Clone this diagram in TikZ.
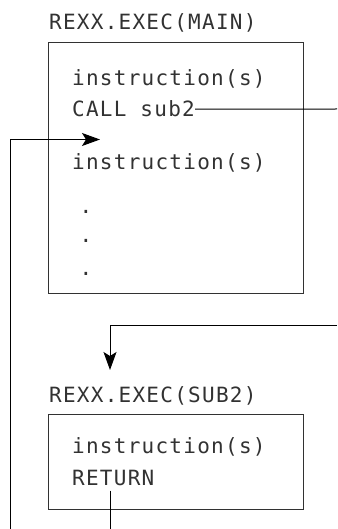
\documentclass[tikz,border=0pt]{standalone}
\usepackage{fontspec}
\usepackage{tikz}
\usetikzlibrary{arrows.meta, positioning}
\newfontfamily\rexxfont[LetterSpace=6]{DejaVu Sans Mono}
\definecolor{inkcolor}{RGB}{50,50,50}

\begin{document}
\begin{tikzpicture}[x=1pt, y=-1pt,
          txt/.style={anchor=base west, inner sep=0pt, text=inkcolor,
            font=\rexxfont\fontsize{21}{24}\selectfont},
          dot/.style={txt, anchor=base},
          dataset/.style={draw=inkcolor, line width=1pt, anchor=north west,
            inner sep=0pt, minimum width=255pt},
          flow/.style={line width=1pt},
          tip/.style={-{Stealth[length=18pt, width=13pt, inset=4pt]}}]
          \useasboundingbox (0,0) rectangle (337,529);

          % Datasets
          \node[dataset, minimum height=251pt] (mainbox) at (48,42) {};
          \node[dataset, minimum height=95pt] (subbox) at (48,414) {};

          % Main exec
          \node[txt] (maintitle) at (49,30) {REXX.EXEC(MAIN)};
          \node[txt] (instr1) at (72,86) {instruction(s)};
          \node[txt] (call) at (72,117) {CALL sub2};
          \node[txt] (instr2) at (72,170) {instruction(s)};
          \node[dot] (dot1) at (86,213) {.};
          \node[dot] (dot2) at (86,242) {.};
          \node[dot] (dot3) at (86,275) {.};

          % Sub exec
          \node[txt] (subtitle) at (49,402) {REXX.EXEC(SUB2)};
          \node[txt] (instr3) at (72,453) {instruction(s)};
          \node[txt] (return) at (72,485) {RETURN};

          % Call and return
          \coordinate (callout) at (337,109);
          \coordinate (entry) at (337,325);
          \coordinate (entrytip) at (110,370);
          \coordinate (retbottom) at (110,529);
          \coordinate (backleft) at (10,529);
          \coordinate (resume) at (100,139.5);
          \draw[flow] (call.east) -- (callout);
          \draw[flow, tip] (entry) -| (entrytip);
          \draw[flow] ([yshift=-5pt]return.south -| retbottom) -- (retbottom);
          \draw[flow, tip] (backleft) |- (resume);
        \end{tikzpicture}
\end{document}
